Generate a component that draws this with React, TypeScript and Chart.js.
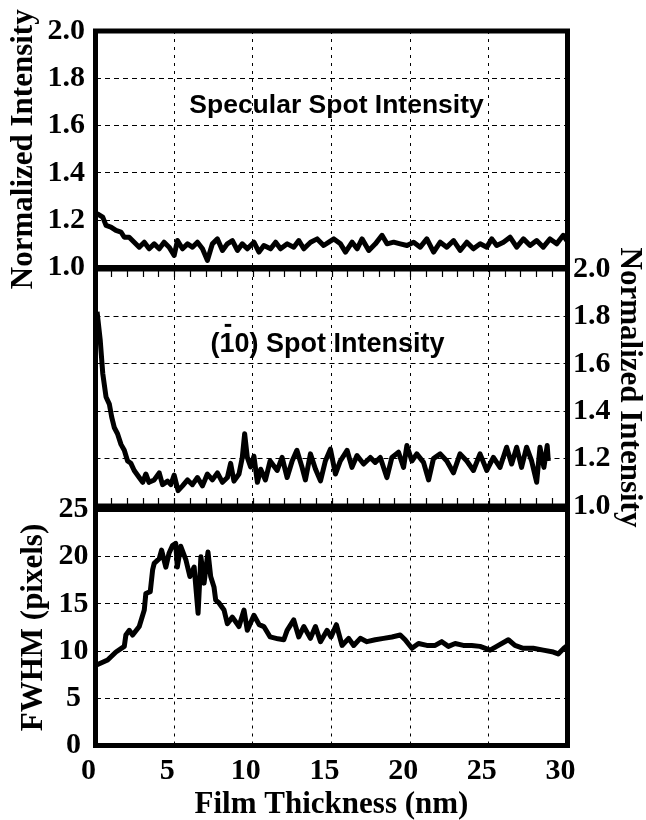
import React, { useEffect, useRef } from "react";
import { Chart, registerables } from "chart.js";

Chart.register(...registerables);

// ---------- data ----------
const xTicks = [0, 5, 10, 15, 20, 25, 30];
const minorTicks = [1, 2, 3, 4, 5, 6, 7, 8, 9, 10, 11, 12, 13, 14, 15, 16, 17, 18, 19, 20, 21, 22, 23, 24, 25, 26, 27, 28, 29];
const intensityTicks = [1.0, 1.2, 1.4, 1.6, 1.8, 2.0];
const fwhmTicks = [0, 5, 10, 15, 20, 25];

const xTitle = "Film Thickness (nm)";
const intensityTitle = "Normalized Intensity";
const fwhmTitle = "FWHM (pixels)";
const specLabel = "Specular Spot Intensity";
// the "1" (index 1) carries an over-bar: (1̄0)
const spotLabel = "(10) Spot Intensity";
const spotLabelBarIndex = 1;

const specX = [0.1, 0.46, 0.67, 0.98, 1.3, 1.62, 1.83, 2.14, 2.46, 2.78, 3.1, 3.41, 3.73, 4.05, 4.36, 4.68, 5.0, 5.21, 5.53, 5.85, 6.16, 6.48, 6.8, 7.11, 7.43, 7.75, 8.07, 8.38, 8.7, 9.02, 9.33, 9.65, 10.07, 10.39, 10.7, 11.13, 11.45, 11.76, 12.19, 12.6, 12.92, 13.24, 13.67, 14.09, 14.5, 14.83, 15.15, 15.57, 15.89, 16.31, 16.63, 16.94, 17.37, 17.79, 18.21, 18.53, 18.95, 19.37, 19.8, 20.22, 20.64, 21.06, 21.49, 21.91, 22.33, 22.76, 23.18, 23.6, 24.02, 24.45, 24.87, 25.19, 25.5, 25.93, 26.35, 26.77, 27.2, 27.62, 28.04, 28.46, 28.89, 29.31, 29.73, 30.0];
const specY = [1.228, 1.213, 1.178, 1.171, 1.157, 1.15, 1.128, 1.128, 1.107, 1.086, 1.107, 1.079, 1.1, 1.079, 1.107, 1.086, 1.051, 1.114, 1.079, 1.1, 1.086, 1.107, 1.079, 1.03, 1.1, 1.121, 1.072, 1.1, 1.114, 1.072, 1.1, 1.079, 1.107, 1.065, 1.093, 1.079, 1.107, 1.079, 1.1, 1.086, 1.114, 1.079, 1.107, 1.121, 1.093, 1.107, 1.121, 1.1, 1.065, 1.107, 1.079, 1.121, 1.072, 1.1, 1.136, 1.1, 1.107, 1.1, 1.093, 1.107, 1.086, 1.121, 1.065, 1.107, 1.086, 1.114, 1.072, 1.107, 1.079, 1.1, 1.086, 1.121, 1.093, 1.107, 1.128, 1.086, 1.121, 1.093, 1.114, 1.086, 1.121, 1.1, 1.136, 1.11];

const spotX = [0.1, 0.3, 0.46, 0.67, 0.88, 1.03, 1.2, 1.4, 1.62, 1.83, 2.04, 2.25, 2.46, 2.78, 3.0, 3.2, 3.4, 3.73, 4.05, 4.26, 4.58, 4.79, 5.0, 5.25, 5.53, 5.85, 6.16, 6.48, 6.8, 7.11, 7.43, 7.75, 8.07, 8.38, 8.59, 8.8, 9.12, 9.33, 9.48, 9.65, 9.86, 10.07, 10.29, 10.5, 10.8, 11.1, 11.55, 11.86, 12.18, 12.5, 12.8, 13.13, 13.34, 13.66, 13.98, 14.3, 14.61, 14.93, 15.25, 15.56, 15.99, 16.3, 16.62, 17.04, 17.47, 17.78, 18.1, 18.52, 18.84, 19.26, 19.58, 19.79, 20.11, 20.42, 20.85, 21.17, 21.48, 21.91, 22.33, 22.75, 23.17, 23.6, 24.02, 24.44, 24.87, 25.29, 25.71, 26.13, 26.45, 26.77, 27.08, 27.4, 27.72, 28.04, 28.25, 28.5, 28.71, 28.78];
const spotY = [1.82, 1.70, 1.56, 1.46, 1.43, 1.375, 1.33, 1.305, 1.26, 1.235, 1.19, 1.18, 1.15, 1.12, 1.10, 1.135, 1.10, 1.11, 1.14, 1.09, 1.105, 1.09, 1.13, 1.065, 1.085, 1.11, 1.09, 1.12, 1.085, 1.135, 1.11, 1.14, 1.10, 1.12, 1.18, 1.105, 1.135, 1.205, 1.305, 1.205, 1.165, 1.21, 1.10, 1.155, 1.11, 1.19, 1.15, 1.205, 1.12, 1.19, 1.235, 1.163, 1.11, 1.22, 1.156, 1.106, 1.19, 1.24, 1.135, 1.19, 1.235, 1.163, 1.213, 1.177, 1.205, 1.184, 1.205, 1.12, 1.205, 1.227, 1.163, 1.255, 1.19, 1.22, 1.184, 1.11, 1.20, 1.22, 1.19, 1.14, 1.22, 1.19, 1.15, 1.22, 1.15, 1.205, 1.163, 1.248, 1.177, 1.248, 1.163, 1.248, 1.19, 1.10, 1.248, 1.163, 1.255, 1.19];

const fwhmX = [0.03, 0.77, 1.3, 1.83, 1.93, 2.15, 2.36, 2.78, 3.1, 3.2, 3.48, 3.63, 3.73, 4.05, 4.2, 4.47, 4.68, 4.9, 5.1, 5.2, 5.42, 5.74, 6.0, 6.27, 6.52, 6.7, 6.9, 7.15, 7.32, 7.53, 7.64, 7.85, 8.17, 8.38, 8.7, 9.12, 9.44, 9.65, 10.07, 10.4, 10.7, 11.1, 11.6, 11.97, 12.18, 12.6, 12.92, 13.24, 13.66, 13.98, 14.3, 14.72, 14.97, 15.31, 15.67, 16.09, 16.41, 16.83, 17.25, 17.78, 18.31, 18.84, 19.37, 19.68, 20.11, 20.53, 21.06, 21.59, 22.01, 22.43, 22.86, 23.38, 23.91, 24.44, 25.08, 25.5, 26.24, 26.66, 27.19, 27.82, 28.46, 29.1, 29.41, 29.77, 30.0];
const fwhmY = [8.5, 9.05, 9.9, 10.5, 11.7, 12.2, 11.7, 12.6, 14.35, 16.1, 16.3, 18.6, 19.3, 19.8, 20.7, 18.9, 20.4, 21.2, 21.4, 18.9, 21.1, 19.7, 17.9, 18.9, 14.0, 20.0, 17.2, 20.5, 17.9, 16.8, 15.4, 15.1, 14.35, 12.9, 13.6, 12.6, 14.35, 12.2, 13.8, 12.8, 12.6, 11.5, 11.3, 11.2, 12.2, 13.3, 11.5, 12.6, 11.35, 12.6, 11.0, 12.2, 11.5, 12.8, 10.6, 11.35, 10.6, 11.35, 11.0, 11.2, 11.35, 11.5, 11.7, 11.2, 10.3, 10.8, 10.6, 10.6, 11.0, 10.5, 10.8, 10.6, 10.6, 10.5, 10.1, 10.5, 11.2, 10.6, 10.3, 10.3, 10.1, 9.9, 9.7, 10.3, 10.6];

// ---------- styling ----------
const W = 646;
const H = 820;
const PLOT_LEFT = 95.5;
const PLOT_RIGHT = 567.5;
const SERIF = "'Liberation Serif', 'Times New Roman', Times, serif";
const SANS = "'Liberation Sans', Arial, Helvetica, sans-serif";
const tickFont = { family: SERIF, size: 30, weight: "bold" as const };
const titleFont = { family: SERIF, size: 31, weight: "bold" as const, lineHeight: 1 };

const toPoints = (xs: number[], ys: number[]) => xs.map((x, i) => ({ x, y: ys[i] }));

const framePlugin = {
  id: "frame",
  afterDatasetsDraw(chart: any) {
    const { ctx, chartArea: a } = chart;
    ctx.save();
    ctx.strokeStyle = "#000";
    ctx.lineWidth = 5;
    ctx.strokeRect(a.left, a.top, a.right - a.left, a.bottom - a.top);
    ctx.restore();
  },
};

const notePlugin = {
  id: "note",
  afterDatasetsDraw(chart: any, _args: any, opts: any) {
    if (!opts || !opts.text) return;
    const { ctx, scales } = chart;
    const px = scales.x.getPixelForValue(opts.x);
    const py = scales.y.getPixelForValue(opts.y);
    const size = opts.size;
    ctx.save();
    ctx.font = `bold ${size}px ${SANS}`;
    ctx.fillStyle = "#000";
    ctx.textAlign = "left";
    ctx.textBaseline = "alphabetic";
    const total = ctx.measureText(opts.text).width;
    const startX = px - total / 2;
    ctx.fillText(opts.text, startX, py);
    if (typeof opts.barIndex === "number" && opts.barIndex >= 0) {
      const before = ctx.measureText(opts.text.slice(0, opts.barIndex)).width;
      const cw = ctx.measureText(opts.text[opts.barIndex]).width;
      const cx = startX + before + cw / 2 + size * 0.04;
      const bw = size * 0.24;
      const bh = size * 0.11;
      ctx.fillRect(cx - bw / 2, py - size * 1.03, bw, bh);
    }
    ctx.restore();
  },
};

const minorTickPlugin = {
  id: "minorTicks",
  afterDatasetsDraw(chart: any) {
    const { ctx, chartArea: a, scales } = chart;
    ctx.save();
    ctx.strokeStyle = "#000";
    ctx.lineWidth = 1.2;
    ctx.beginPath();
    for (const v of minorTicks) {
      const px = Math.round(scales.x.getPixelForValue(v)) + 0.5;
      ctx.moveTo(px, a.top);
      ctx.lineTo(px, a.top + 8);
      ctx.moveTo(px, a.bottom);
      ctx.lineTo(px, a.bottom - 8);
    }
    ctx.stroke();
    ctx.restore();
  },
};

function xScale(showLabels: boolean) {
  return {
    type: "linear",
    position: "bottom",
    min: 0,
    max: 30,
    afterBuildTicks: (s: any) => {
      s.ticks = xTicks.map((v) => ({ value: v }));
    },
    afterFit: (s: any) => {
      s.height = showLabels ? H - 745.5 : 0;
    },
    grid: { color: "#000", lineWidth: 1, drawTicks: false },
    border: { display: false, dash: [3, 5] },
    ticks: {
      display: showLabels,
      color: "#000",
      font: tickFont,
      padding: 7.5,
      labelOffset: -7,
      maxRotation: 0,
      autoSkip: false,
    },
    title: {
      display: showLabels,
      text: xTitle,
      color: "#000",
      font: titleFont,
      padding: { top: 0, bottom: 0 },
    },
  };
}

function yScale(opts: {
  position: "left" | "right";
  min: number;
  max: number;
  ticks: number[];
  decimals: number;
  title: string;
  titlePad: number;
  tickPad: number;
  crossAlign: string;
}) {
  return {
    type: "linear",
    position: opts.position,
    min: opts.min,
    max: opts.max,
    afterBuildTicks: (s: any) => {
      s.ticks = opts.ticks.map((v) => ({ value: v }));
    },
    afterFit: (s: any) => {
      s.width = opts.position === "left" ? PLOT_LEFT : W - PLOT_RIGHT;
    },
    grid: { color: "#000", lineWidth: 1, drawTicks: false },
    border: { display: false, dash: [5, 4] },
    ticks: {
      color: "#000",
      font: tickFont,
      padding: opts.tickPad,
      crossAlign: opts.crossAlign,
      autoSkip: false,
      callback: (v: any) => Number(v).toFixed(opts.decimals),
    },
    title: {
      display: true,
      text: opts.title,
      color: "#000",
      font: titleFont,
      padding: { top: opts.titlePad, bottom: 0 },
    },
  };
}

function lineDataset(xs: number[], ys: number[]) {
  return {
    data: toPoints(xs, ys),
    borderColor: "#000",
    borderWidth: 5,
    pointRadius: 0,
    tension: 0,
    fill: false,
    borderJoinStyle: "round",
    borderCapStyle: "butt",
  };
}

function baseOptions(padding: any, scales: any, note: any) {
  return {
    responsive: false,
    maintainAspectRatio: false,
    animation: false,
    devicePixelRatio: 1,
    events: [],
    layout: { padding },
    plugins: {
      legend: { display: false },
      tooltip: { enabled: false },
      note,
    },
    scales,
  };
}

export default function App() {
  const c1 = useRef<HTMLCanvasElement>(null);
  const c2 = useRef<HTMLCanvasElement>(null);
  const c3 = useRef<HTMLCanvasElement>(null);

  useEffect(() => {
    const charts: Chart[] = [];

    charts.push(
      new Chart(c1.current as HTMLCanvasElement, {
        type: "line",
        data: { datasets: [lineDataset(specX, specY) as any] },
        options: baseOptions(
          { top: 31, bottom: H - 267.5, left: 0, right: W - PLOT_RIGHT },
          {
            x: xScale(false),
            y: yScale({
              position: "left",
              min: 1,
              max: 2,
              ticks: intensityTicks,
              decimals: 1,
              title: intensityTitle,
              titlePad: 8.5,
              tickPad: 10.5,
              crossAlign: "near",
            }),
          },
          { text: specLabel, x: 15.32, y: 1.655, size: 26.5, barIndex: -1 }
        ) as any,
        plugins: [framePlugin, notePlugin],
      })
    );

    charts.push(
      new Chart(c2.current as HTMLCanvasElement, {
        type: "line",
        data: { datasets: [lineDataset(spotX, spotY) as any] },
        options: baseOptions(
          { top: 269, bottom: H - 506, left: PLOT_LEFT, right: 0 },
          {
            x: xScale(false),
            y: yScale({
              position: "right",
              min: 1,
              max: 2,
              ticks: intensityTicks,
              decimals: 1,
              title: intensityTitle,
              titlePad: 1.5,
              tickPad: 5.5,
              crossAlign: "near",
            }),
          },
          { text: spotLabel, x: 14.74, y: 1.651, size: 27, barIndex: spotLabelBarIndex }
        ) as any,
        plugins: [framePlugin, notePlugin, minorTickPlugin],
      })
    );

    charts.push(
      new Chart(c3.current as HTMLCanvasElement, {
        type: "line",
        data: { datasets: [lineDataset(fwhmX, fwhmY) as any] },
        options: baseOptions(
          { top: 509.5, bottom: 0, left: 0, right: W - PLOT_RIGHT },
          {
            x: xScale(true),
            y: yScale({
              position: "left",
              min: 0,
              max: 25,
              ticks: fwhmTicks,
              decimals: 0,
              title: fwhmTitle,
              titlePad: 18.8,
              tickPad: 7,
              crossAlign: "center",
            }),
          },
          { text: "" }
        ) as any,
        plugins: [framePlugin, notePlugin],
      })
    );

    return () => {
      charts.forEach((c) => c.destroy());
    };
  }, []);

  const canvasStyle: React.CSSProperties = {
    position: "absolute",
    left: 0,
    top: 0,
    width: W,
    height: H,
  };

  return (
    <div
      style={{
        position: "absolute",
        left: 0,
        top: 0,
        width: W,
        height: H,
        overflow: "hidden",
        background: "#fff",
      }}
    >
      <canvas ref={c1} width={W} height={H} style={canvasStyle} />
      <canvas ref={c2} width={W} height={H} style={canvasStyle} />
      <canvas ref={c3} width={W} height={H} style={canvasStyle} />
    </div>
  );
}
